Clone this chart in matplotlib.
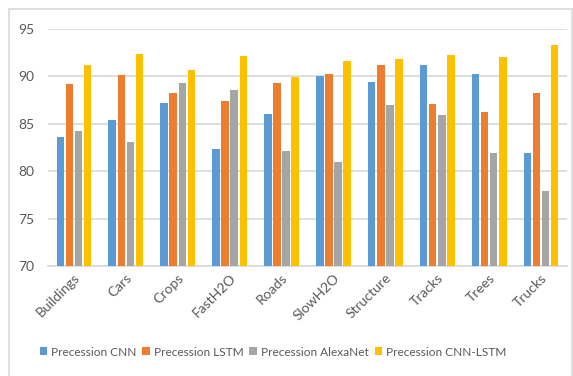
import numpy as np
import matplotlib.pyplot as plt
from matplotlib.patches import Rectangle

categories = ['Buildings', 'Cars', 'Crops', 'FastH2O', 'Roads', 'SlowH2O',
              'Structure', 'Tracks', 'Trees', 'Trucks']
cnn = [83.6, 85.4, 87.2, 82.3, 86.0, 90.0, 89.4, 91.2, 90.3, 81.9]
lstm = [89.2, 90.1, 88.2, 87.4, 89.3, 90.2, 91.2, 87.1, 86.2, 88.2]
alexnet = [84.2, 83.1, 89.3, 88.6, 82.1, 81.0, 87.0, 85.9, 81.9, 77.9]
cnn_lstm = [91.2, 92.4, 90.7, 92.2, 89.9, 91.6, 91.8, 92.3, 92.0, 93.3]

series = [('Precession CNN', cnn, '#5B9BD5'),
          ('Precession LSTM', lstm, '#ED7D31'),
          ('Precession AlexaNet', alexnet, '#A5A5A5'),
          ('Precession CNN-LSTM', cnn_lstm, '#FFC000')]

plt.rcParams['font.family'] = ['Lato', 'DejaVu Sans']

fig = plt.figure(figsize=(5.73, 3.76), dpi=100)
ax = fig.add_axes([0.0838, 0.2926, 0.9057, 0.6303])

x = np.arange(len(categories))
step = 0.175
w = 0.145
for i, (name, vals, col) in enumerate(series):
    ax.bar(x + (i - 1.5) * step, np.array(vals) - 70, bottom=70, width=w,
           color=col, label=name, zorder=3)

ax.set_ylim(70, 95)
ax.set_xlim(-0.5, len(categories) - 0.5)
ax.set_yticks([70, 75, 80, 85, 90, 95])
ax.set_xticks(x)
ax.set_xticklabels(categories, rotation=45, ha='right', rotation_mode='anchor')
ax.tick_params(axis='both', length=0, labelsize=10, colors='#595959')
ax.tick_params(axis='y', pad=10)
ax.tick_params(axis='x', pad=4)
ax.grid(axis='y', color='#D9D9D9', linewidth=1.2, zorder=0)
for s in ['top', 'right', 'left']:
    ax.spines[s].set_visible(False)
ax.spines['bottom'].set_color('#D9D9D9')
ax.spines['bottom'].set_linewidth(1.2)

leg = fig.legend(loc='center', bbox_to_anchor=(273 / 573, 1 - 352 / 376), ncol=4,
                 frameon=False, fontsize=8.6, handlelength=0.65, handleheight=0.65,
                 handletextpad=0.3, columnspacing=0.5)
for t in leg.get_texts():
    t.set_color('#595959')

fig.patches.append(Rectangle((9 / 573, -0.01), 1 - 9 / 573 - 1.5 / 573, 1 - 9 / 376 + 0.01,
                             transform=fig.transFigure, fill=False,
                             edgecolor='#D9D9D9', linewidth=1.2))

fig.savefig('out.png', dpi=100)
